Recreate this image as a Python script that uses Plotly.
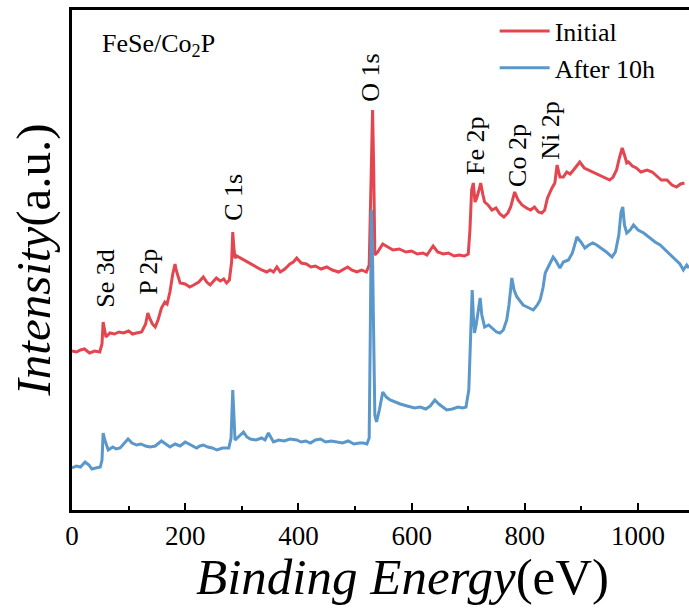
import plotly.graph_objects as go

# XPS survey spectra of FeSe/Co2P (intensity in arbitrary units, offset per curve)
energy_initial = [0, 8, 15, 22, 31, 40, 49, 53, 55, 57, 60, 67, 75, 83, 91, 100, 107, 114, 123, 130, 134, 137,
                  142, 147, 152, 158, 164, 168, 173, 178, 182, 184, 188, 191, 200, 208, 215, 224, 232, 238, 244,
                  250, 255, 262, 268, 273, 278, 282, 284, 286, 288, 291, 297, 303, 312, 320, 327, 335, 344, 350,
                  356, 362, 368, 376, 385, 391, 397, 405, 414, 422, 430, 440, 450, 460, 471, 480, 487, 494, 503,
                  512, 520, 525, 528, 531, 533, 535, 540, 549, 558, 567, 578, 590, 600, 610, 620, 627, 633, 638,
                  646, 656, 665, 675, 684, 693, 700, 703, 706, 709, 712, 715, 718, 722, 726, 729, 735, 742, 749,
                  756, 763, 770, 775, 778, 782, 788, 795, 803, 810, 817, 824, 830, 835, 840, 844, 848, 853, 857,
                  862, 868, 874, 880, 886, 891, 897, 905, 913, 921, 930, 940, 950, 956, 962, 967, 972, 976, 980,
                  983, 990, 997, 1005, 1016, 1025, 1033, 1041, 1051, 1060, 1068, 1075, 1082, 1090]
intensity_initial = [159, 158, 160, 161, 157, 159, 158, 166, 188, 180, 173, 177, 176, 178, 177, 179, 176, 177,
                     178, 186, 197, 192, 186, 183, 190, 202, 208, 206, 218, 236, 246, 240, 232, 227, 226, 223,
                     225, 228, 233, 228, 225, 229, 232, 229, 231, 227, 230, 248, 278, 262, 252, 254, 252, 250,
                     247, 245, 242, 240, 238, 240, 238, 243, 238, 241, 246, 248, 252, 247, 246, 243, 244, 241,
                     243, 240, 238, 241, 243, 240, 238, 240, 238, 245, 330, 400, 340, 255, 258, 266, 263, 260,
                     261, 258, 259, 256, 257, 255, 260, 264, 258, 256, 257, 254, 255, 254, 256, 280, 320, 327,
                     308, 312, 318, 327, 315, 308, 305, 300, 302, 296, 293, 297, 303, 310, 318, 310, 305, 302,
                     300, 303, 298, 297, 300, 312, 318, 322, 327, 345, 333, 333, 338, 336, 340, 344, 348, 342,
                     340, 338, 335, 333, 330, 333, 340, 352, 362, 355, 347, 348, 344, 342, 338, 340, 338, 334,
                     330, 330, 325, 323, 326, 327]

energy_after = [0, 8, 15, 23, 30, 35, 42, 50, 53, 55, 58, 64, 72, 78, 85, 92, 99, 106, 114, 122, 130, 138, 147,
                158, 165, 173, 182, 191, 200, 210, 220, 226, 232, 240, 248, 256, 266, 277, 281, 284, 286, 288,
                292, 298, 303, 309, 315, 325, 335, 341, 347, 352, 356, 365, 375, 385, 397, 405, 413, 421, 430,
                439, 448, 458, 468, 478, 488, 498, 508, 515, 521, 525, 527, 529, 531, 533, 535, 538, 543, 549,
                555, 562, 570, 580, 592, 605, 615, 625, 633, 641, 648, 655, 662, 672, 682, 690, 696, 701, 704,
                707, 709, 711, 714, 718, 721, 724, 729, 736, 743, 750, 756, 762, 768, 772, 777, 781, 786, 792,
                797, 804, 815, 822, 827, 832, 836, 843, 850, 854, 858, 862, 868, 877, 884, 892, 899, 906, 913,
                920, 927, 935, 944, 954, 960, 966, 970, 973, 976, 980, 986, 992, 1000, 1010, 1020, 1030, 1039,
                1048, 1058, 1066, 1074, 1080, 1086, 1090]
intensity_after = [42, 44, 43, 48, 45, 41, 42, 43, 50, 77, 70, 60, 63, 61, 62, 66, 71, 67, 65, 66, 64, 63, 64,
                   69, 66, 63, 66, 64, 68, 65, 62, 64, 65, 63, 62, 60, 62, 62, 72, 120, 95, 70, 72, 75, 78, 73,
                   71, 70, 72, 70, 77, 72, 68, 70, 69, 71, 70, 68, 69, 67, 70, 71, 68, 69, 68, 67, 69, 66, 67,
                   67, 66, 72, 180, 300, 250, 150, 95, 88, 100, 118, 113, 110, 108, 106, 104, 102, 103, 101,
                   104, 110, 106, 103, 100, 101, 103, 102, 103, 120, 175, 220, 195, 177, 185, 200, 212, 195, 183,
                   185, 181, 178, 177, 180, 190, 205, 232, 220, 213, 208, 205, 203, 200, 205, 210, 222, 237, 245,
                   253, 250, 246, 242, 248, 250, 257, 273, 268, 262, 265, 267, 265, 262, 258, 253, 258, 275, 298,
                   303, 285, 277, 280, 285, 280, 277, 272, 268, 265, 260, 255, 250, 246, 240, 245, 242]

# Core-level assignments and where their labels sit
peak_names = ["Se 3d", "P 2p", "C 1s", "O 1s", "Fe 2p", "Co 2p", "Ni 2p"]
peak_label_x = [58, 134, 284, 526, 712, 786, 844]
peak_label_y = [232, 238, 313, 432, 364, 355, 380]

series_names = ["Initial", "After 10h"]
series_colors = ["#E4464F", "#5A97CA"]

SERIF = "'Times New Roman', 'Liberation Serif', 'DejaVu Serif', serif"

fig = go.Figure()
fig.add_trace(go.Scatter(x=energy_initial, y=intensity_initial, mode="lines", name=series_names[0],
                         line=dict(color=series_colors[0], width=3)))
fig.add_trace(go.Scatter(x=energy_after, y=intensity_after, mode="lines", name=series_names[1],
                         line=dict(color=series_colors[1], width=3)))

for name, px_, py_ in zip(peak_names, peak_label_x, peak_label_y):
    fig.add_annotation(x=px_, y=py_, xref="x", yref="y", text=name, showarrow=False,
                       textangle=-90, font=dict(family=SERIF, size=26, color="black"))

fig.add_annotation(x=0.045, y=0.93, xref="paper", yref="paper", xanchor="left", yanchor="middle",
                   text="FeSe/Co<sub>2</sub>P", showarrow=False,
                   font=dict(family=SERIF, size=26, color="black"))

# Axis titles
fig.add_annotation(x=0.536, y=-0.134, xref="paper", yref="paper", xanchor="center", yanchor="middle",
                   text="<i>Binding Energy</i>(eV)", showarrow=False,
                   font=dict(family=SERIF, size=51, color="black"))
fig.add_annotation(x=-0.064, y=0.5, xref="paper", yref="paper", xanchor="center", yanchor="middle",
                   text="<i>Intensity</i>(a.u.)", showarrow=False, textangle=-90,
                   font=dict(family=SERIF, size=49, color="black"))

fig.update_layout(
    width=689, height=613,
    margin=dict(l=72, r=0, t=10, b=103),
    plot_bgcolor="white", paper_bgcolor="white",
    font=dict(family=SERIF, color="black"),
    showlegend=True,
    legend=dict(x=0.685, y=1.005, xanchor="left", yanchor="top", bgcolor="rgba(0,0,0,0)",
                font=dict(family=SERIF, size=26, color="black"), itemwidth=50, tracegroupgap=2),
    xaxis=dict(range=[0, 1090], showline=True, linecolor="black", linewidth=2.5, mirror=True,
               showgrid=False, zeroline=False, ticks="inside", ticklen=7, tickwidth=2.2,
               tickcolor="black", tickvals=[0, 200, 400, 600, 800, 1000],
               minor=dict(ticks="inside", ticklen=4, tickwidth=2, tickcolor="black", dtick=100),
               tickfont=dict(family=SERIF, size=27, color="black"), automargin=False),
    yaxis=dict(range=[0, 500], showline=True, linecolor="black", linewidth=2.5, mirror=False,
               showgrid=False, zeroline=False, showticklabels=False, ticks="", automargin=False),
)

fig.write_html("out.html")
